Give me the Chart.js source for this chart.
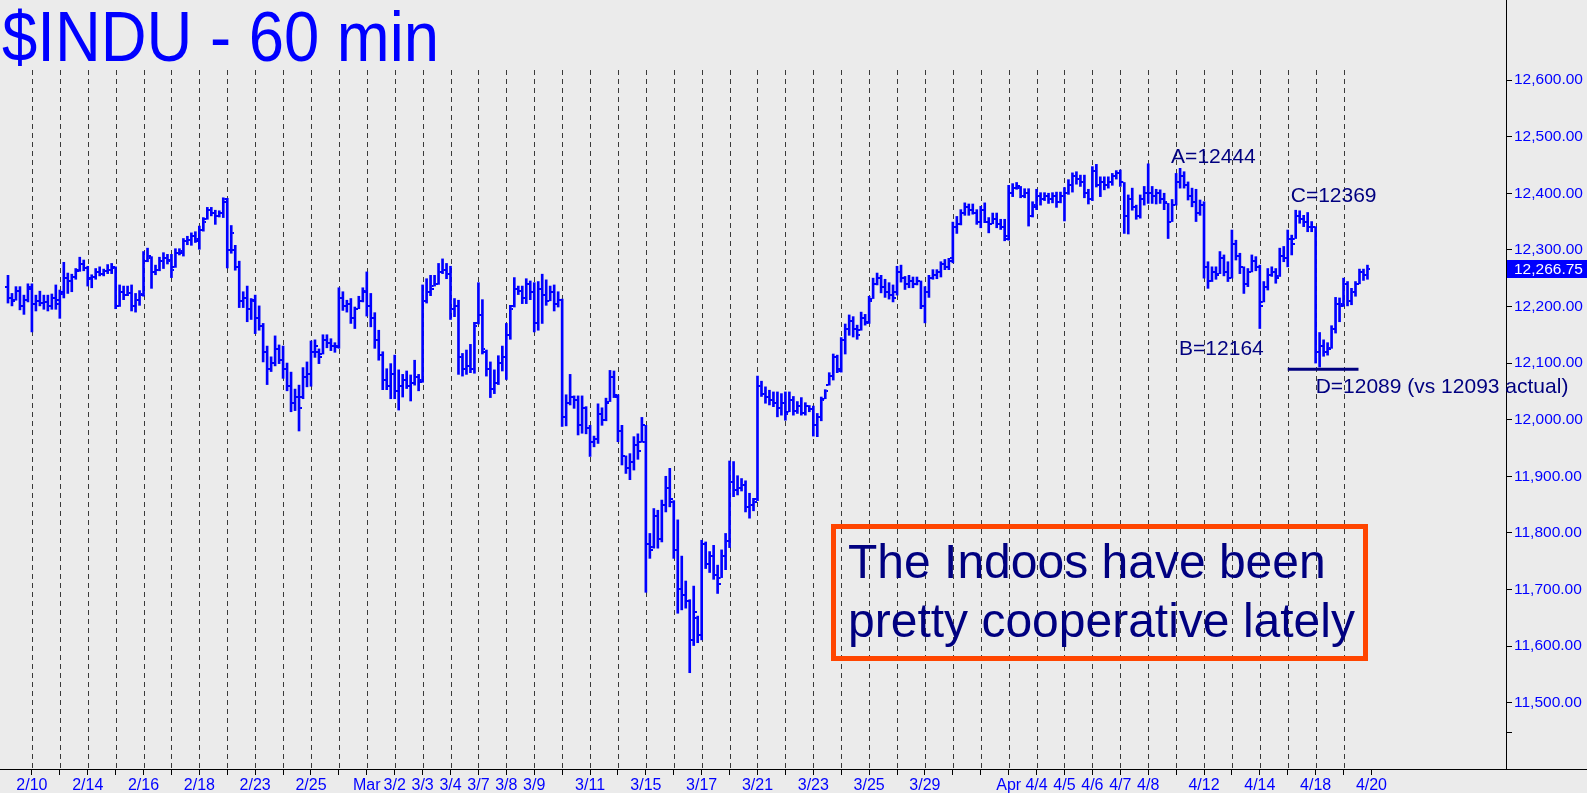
<!DOCTYPE html>
<html>
<head>
<meta charset="utf-8">
<title>$INDU - 60 min</title>
<script src="https://cdn.jsdelivr.net/npm/chart.js@4.4.1/dist/chart.umd.min.js"></script>
<style>
  html, body { margin: 0; padding: 0; background: #ebebeb; }
  canvas { display: block; }
</style>
</head>
<body>
<canvas id="induChart" width="1587" height="793"></canvas>
<script>
// one label per trading day (day lines), '' where the axis shows none
const dayLabels = ['2/10','','2/14','','2/16','','2/18','','2/23','','2/25','','Mar','3/2','3/3','3/4','3/7','3/8','3/9','','3/11','','3/15','','3/17','','3/21','','3/23','','3/25','','3/29','','','Apr','4/4','4/5','4/6','4/7','4/8','','4/12','','4/14','','4/18','','4/20'];
const barsPerDay = 7;
const firstDayOffset = 6; // last bars of 2/9 shown before the 2/10 line

// hourly bars, one row per day
const highs = [
  12255,12223,12235,12235,12220,12240,
  12240,12220,12227,12220,12220,12222,12238,
  12229,12278,12259,12257,12267,12287,12282,
  12271,12256,12267,12270,12266,12274,12276,
  12270,12238,12236,12236,12238,12223,12228,
  12297,12303,12288,12273,12287,12295,12292,
  12292,12302,12302,12320,12324,12330,12332,
  12342,12357,12375,12375,12370,12369,12392,
  12391,12343,12308,12280,12226,12236,12214,
  12220,12201,12170,12130,12111,12148,12132,
  12130,12100,12084,12054,12061,12092,12102,
  12139,12141,12125,12150,12150,12143,12136,
  12233,12226,12211,12214,12199,12218,12233,
  12261,12223,12189,12158,12120,12090,12099,
  12114,12088,12080,12086,12079,12105,12080,
  12238,12249,12255,12255,12276,12284,12276,
  12271,12214,12211,12117,12123,12133,12172,
  12242,12212,12123,12102,12088,12113,12130,
  12170,12202,12251,12236,12236,12249,12245,
  12242,12244,12257,12247,12236,12238,12226,
  12213,12044,12080,12042,12042,12042,12023,
  11990,11971,12028,12021,12038,12087,12086,
  12044,11990,11936,11940,11970,11975,12004,
  11990,11799,11843,11840,11858,11900,11914,
  11857,11823,11759,11715,11682,11706,11653,
  11787,11784,11767,11778,11743,11770,11799,
  11927,11926,11901,11896,11892,11870,11861,
  12077,12068,12058,12052,12049,12049,12046,
  12049,12049,12041,12032,12039,12030,12025,
  12024,12011,12040,12053,12083,12116,12114,
  12145,12169,12185,12182,12167,12190,12186,
  12218,12250,12259,12255,12248,12242,12238,
  12271,12273,12253,12255,12252,12252,12245,
  12235,12255,12265,12265,12279,12283,12285,
  12349,12359,12371,12383,12381,12381,12371,
  12377,12383,12357,12365,12365,12354,12354,
  12414,12417,12419,12412,12408,12408,12385,
  12407,12401,12401,12400,12401,12402,12402,
  12410,12424,12436,12438,12432,12432,12407,
  12447,12451,12429,12429,12429,12435,12440,
  12441,12419,12397,12409,12379,12397,12412,
  12452,12412,12407,12406,12400,12382,12389,
  12435,12444,12438,12420,12409,12407,12388,
  12385,12279,12270,12270,12297,12291,12279,
  12335,12317,12294,12270,12267,12291,12288,
  12273,12244,12267,12270,12267,12303,12306,
  12335,12326,12370,12369,12361,12366,12350,
  12341,12154,12141,12136,12166,12216,12215,
  12250,12244,12232,12244,12266,12266,12273
];
const lows = [
  12206,12201,12211,12194,12186,12208,
  12155,12192,12201,12195,12192,12195,12195,
  12179,12215,12223,12226,12248,12262,12263,
  12236,12233,12248,12254,12254,12258,12258,
  12196,12200,12212,12219,12192,12190,12202,
  12218,12279,12232,12256,12263,12267,12275,
  12251,12269,12291,12289,12309,12308,12313,
  12301,12333,12354,12360,12345,12358,12357,
  12268,12294,12264,12198,12198,12173,12177,
  12152,12158,12102,12062,12085,12095,12099,
  12073,12051,12014,12016,11980,12037,12058,
  12059,12110,12099,12116,12127,12122,12119,
  12126,12193,12190,12170,12161,12196,12208,
  12183,12164,12126,12105,12053,12053,12037,
  12037,12017,12040,12055,12033,12061,12051,
  12066,12206,12219,12236,12239,12258,12249,
  12177,12182,12080,12077,12080,12083,12082,
  12169,12116,12077,12039,12046,12062,12086,
  12071,12142,12199,12221,12205,12205,12212,
  12155,12158,12170,12202,12210,12192,12199,
  11988,11989,12026,12020,11973,11976,11975,
  11935,11952,11958,11990,11998,12032,12039,
  11961,11920,11905,11894,11911,11930,11960,
  11695,11755,11773,11773,11784,11837,11846,
  11755,11658,11664,11667,11553,11601,11606,
  11611,11737,11730,11718,11693,11721,11735,
  11774,11864,11867,11874,11837,11826,11839,
  11857,12041,12029,12026,12023,12005,12008,
  11999,12014,12008,12011,12008,12008,12014,
  11971,11970,11998,12037,12061,12070,12083,
  12084,12116,12149,12146,12142,12158,12167,
  12170,12214,12238,12224,12216,12213,12208,
  12220,12243,12230,12233,12233,12238,12196,
  12171,12216,12248,12249,12252,12265,12265,
  12277,12329,12344,12361,12361,12363,12345,
  12339,12348,12330,12346,12339,12336,12316,
  12317,12394,12407,12392,12392,12342,12358,
  12371,12379,12387,12382,12383,12375,12383,
  12351,12398,12402,12416,12412,12392,12381,
  12387,12411,12394,12406,12409,12414,12425,
  12412,12329,12328,12370,12354,12356,12379,
  12382,12382,12381,12382,12371,12320,12350,
  12379,12409,12409,12388,12376,12350,12361,
  12250,12232,12244,12248,12258,12254,12244,
  12250,12282,12258,12223,12235,12261,12263,
  12161,12208,12229,12253,12241,12253,12279,
  12270,12291,12320,12347,12341,12332,12332,
  12100,12093,12112,12114,12126,12153,12173,
  12200,12201,12203,12218,12240,12246,12248
];
const opens = [
  12235,12215,12212,12228,12200,12212,
  12235,12205,12210,12206,12208,12200,12215,
  12205,12222,12250,12245,12252,12265,12275,
  12268,12248,12252,12260,12258,12262,12265,
  12268,12200,12225,12220,12224,12200,12212,
  12222,12280,12285,12260,12265,12280,12285,
  12282,12270,12295,12295,12315,12318,12325,
  12315,12335,12355,12370,12365,12360,12365,
  12385,12300,12300,12270,12210,12215,12195,
  12212,12180,12165,12120,12090,12100,12125,
  12105,12090,12060,12030,12040,12040,12075,
  12080,12120,12120,12116,12140,12135,12130,
  12130,12215,12200,12205,12180,12196,12210,
  12228,12200,12180,12140,12115,12070,12060,
  12080,12050,12060,12070,12060,12065,12075,
  12070,12210,12225,12236,12240,12260,12265,
  12258,12195,12200,12110,12090,12095,12090,
  12170,12185,12120,12090,12055,12065,12100,
  12110,12150,12200,12230,12228,12215,12240,
  12225,12170,12230,12220,12210,12225,12205,
  12212,12005,12030,12040,12035,11990,12020,
  11985,11960,11965,12010,12000,12032,12075,
  12040,11980,11935,11915,11925,11955,11960,
  11960,11780,11775,11830,11790,11850,11880,
  11855,11770,11700,11690,11680,11610,11650,
  11620,11780,11745,11760,11725,11721,11760,
  11785,11890,11875,11880,11885,11845,11850,
  11860,12060,12045,12040,12035,12030,12020,
  12030,12014,12035,12015,12025,12012,12025,
  12018,11990,12005,12037,12061,12078,12110,
  12090,12140,12160,12175,12160,12158,12180,
  12172,12214,12240,12250,12235,12225,12220,
  12225,12260,12250,12240,12245,12240,12245,
  12200,12225,12250,12255,12260,12275,12270,
  12285,12340,12345,12365,12375,12370,12365,
  12350,12370,12350,12346,12355,12345,12340,
  12325,12400,12410,12410,12395,12400,12360,
  12380,12395,12390,12395,12390,12395,12385,
  12395,12400,12415,12430,12425,12420,12400,
  12390,12440,12415,12420,12415,12420,12430,
  12435,12419,12360,12390,12375,12360,12390,
  12400,12400,12395,12400,12390,12382,12350,
  12380,12420,12430,12415,12395,12385,12365,
  12380,12270,12245,12260,12258,12285,12260,
  12250,12310,12290,12270,12240,12261,12280,
  12270,12208,12235,12255,12260,12253,12290,
  12285,12320,12320,12360,12355,12350,12340,
  12341,12120,12130,12120,12126,12160,12205,
  12205,12240,12210,12225,12240,12260,12255
];
const closes = [
  12215,12210,12228,12200,12212,12230,
  12205,12210,12206,12208,12200,12215,12212,
  12225,12250,12245,12252,12262,12275,12268,
  12250,12252,12260,12258,12262,12265,12270,
  12200,12225,12220,12224,12200,12212,12220,
  12280,12290,12260,12265,12280,12285,12280,
  12265,12295,12298,12315,12318,12325,12320,
  12335,12350,12370,12365,12360,12365,12390,
  12300,12330,12270,12210,12215,12195,12210,
  12180,12165,12120,12090,12100,12125,12105,
  12090,12060,12030,12040,12020,12075,12080,
  12120,12130,12110,12140,12135,12130,12128,
  12215,12200,12205,12180,12195,12210,12225,
  12200,12180,12140,12115,12070,12060,12080,
  12050,12060,12070,12060,12065,12075,12066,
  12210,12225,12230,12240,12260,12265,12258,
  12195,12200,12110,12090,12095,12090,12165,
  12185,12125,12090,12055,12065,12100,12110,
  12150,12195,12230,12228,12215,12240,12225,
  12170,12230,12220,12210,12225,12205,12212,
  12005,12030,12040,12035,11990,12020,11985,
  11960,11965,12010,12000,12030,12075,12044,
  11980,11935,11915,11925,11955,11945,11990,
  11780,11770,11830,11790,11850,11880,11860,
  11770,11700,11690,11680,11610,11660,11620,
  11780,11745,11760,11725,11710,11760,11785,
  11890,11875,11880,11885,11845,11850,11855,
  12060,12045,12040,12035,12030,12020,12030,
  12010,12035,12015,12025,12012,12025,12018,
  11990,12005,12035,12050,12078,12110,12086,
  12140,12160,12175,12160,12150,12180,12170,
  12210,12240,12250,12235,12225,12220,12215,
  12260,12250,12240,12245,12240,12245,12200,
  12225,12250,12255,12260,12275,12270,12280,
  12340,12345,12365,12375,12370,12365,12350,
  12370,12350,12345,12355,12345,12340,12320,
  12400,12410,12412,12395,12400,12360,12375,
  12395,12390,12395,12390,12395,12385,12395,
  12400,12415,12430,12425,12420,12400,12390,
  12440,12415,12420,12415,12420,12430,12435,
  12420,12360,12390,12375,12360,12390,12400,
  12400,12395,12400,12390,12385,12350,12380,
  12420,12430,12415,12395,12385,12365,12380,
  12270,12245,12260,12255,12285,12260,12250,
  12310,12290,12270,12240,12260,12280,12270,
  12200,12235,12255,12260,12250,12290,12285,
  12320,12310,12360,12355,12350,12340,12341,
  12120,12130,12120,12125,12160,12205,12200,
  12240,12210,12225,12240,12260,12255,12266.75
];
const yTicks = [11500, 11600, 11700, 11800, 11900, 12000, 12100, 12200, 12300, 12400, 12500, 12600];
const yBareTicks = [11448]; // unlabelled mark near the bottom of the price axis

// pattern labels, placed in (bar slot, price) terms
const notes = [
  { text: 'A=12444', bar: 285.75, price: 12454 },
  { text: 'C=12369', bar: 315.75, price: 12384 },
  { text: 'B=12164', bar: 287.75, price: 12114 },
  { text: 'D=12089 (vs 12093 actual)', bar: 322, price: 12047 }
];
const dTarget = 12089;
const dLineBars = [315, 332.75];

const fontFamily = "'Liberation Sans', Arial, sans-serif";
const blue = '#0000ff';
const navy = '#000080';

const slots = highs.map((_, i) => i - firstDayOffset);
const rangeData = highs.map((h, i) => ({ x: slots[i], y: [lows[i], h] }));
const openData = opens.map((o, i) => ({ x: slots[i], y: o }));
const closeData = closes.map((c, i) => ({ x: slots[i], y: c }));

function tickMark(side) {
  const c = document.createElement('canvas');
  c.width = 6;
  c.height = 2;
  const g = c.getContext('2d');
  g.fillStyle = blue;
  g.fillRect(side === 'left' ? 0 : 4, 0, 2, 2);
  return c;
}

const decor = {
  id: 'decor',
  beforeDraw(chart) {
    const { ctx, width, height } = chart;
    ctx.save();
    ctx.fillStyle = '#ebebeb';
    ctx.fillRect(0, 0, width, height);
    ctx.restore();
  },
  beforeDatasetsDraw(chart) {
    const { ctx, chartArea, scales: { x } } = chart;
    ctx.save();
    ctx.strokeStyle = '#3a3a3a';
    ctx.lineWidth = 1;
    ctx.setLineDash([5, 4]);
    for (let d = 0; d < dayLabels.length - 1; d++) {
      const px = Math.round(x.getPixelForValue(d * barsPerDay)) + 0.5;
      ctx.beginPath();
      ctx.moveTo(px, 70);
      ctx.lineTo(px, chartArea.bottom);
      ctx.stroke();
    }
    ctx.restore();
  },
  afterDraw(chart) {
    const { ctx, chartArea, width, scales: { x, y } } = chart;
    ctx.save();

    // axis lines run past the plot
    ctx.strokeStyle = '#000';
    ctx.lineWidth = 1;
    ctx.beginPath();
    ctx.moveTo(0, chartArea.bottom + 0.5);
    ctx.lineTo(width, chartArea.bottom + 0.5);
    ctx.moveTo(chartArea.right + 0.5, 0);
    ctx.lineTo(chartArea.right + 0.5, chartArea.bottom);
    ctx.stroke();

    // last price flag
    const last = closes[closes.length - 1];
    const ly = y.getPixelForValue(last);
    ctx.fillStyle = blue;
    ctx.fillRect(chartArea.right + 1, Math.round(ly) - 9, width - chartArea.right - 1, 18);
    ctx.fillStyle = '#fff';
    ctx.font = '15.5px ' + fontFamily;
    ctx.textBaseline = 'middle';
    ctx.fillText(last.toLocaleString('en-US', { minimumFractionDigits: 2, maximumFractionDigits: 2 }), chartArea.right + 8, ly + 1);

    // title
    ctx.textBaseline = 'alphabetic';
    ctx.fillStyle = blue;
    ctx.font = '70px ' + fontFamily;
    ctx.fillText('$INDU - 60 min', 2, 61, 437);

    // pattern notes
    ctx.fillStyle = navy;
    ctx.font = '21px ' + fontFamily;
    notes.forEach(n => ctx.fillText(n.text, x.getPixelForValue(n.bar), y.getPixelForValue(n.price)));
    ctx.strokeStyle = navy;
    ctx.lineWidth = 3;
    ctx.beginPath();
    const dy = y.getPixelForValue(dTarget);
    ctx.moveTo(x.getPixelForValue(dLineBars[0]), dy);
    ctx.lineTo(x.getPixelForValue(dLineBars[1]), dy);
    ctx.stroke();

    // comment box
    ctx.strokeStyle = '#ff4500';
    ctx.lineWidth = 5;
    ctx.strokeRect(833.5, 526.5, 532, 132);
    ctx.fillStyle = navy;
    ctx.font = '48px ' + fontFamily;
    ctx.fillText('The Indoos have been', 848, 578);
    ctx.fillText('pretty cooperative lately', 848, 637);

    ctx.restore();
  }
};

const ctx = document.getElementById('induChart').getContext('2d');
const induChart = new Chart(ctx, {
  type: 'bar',
  data: {
    datasets: [
      {
        type: 'bar',
        data: rangeData,
        backgroundColor: blue,
        borderWidth: 0,
        barThickness: 2,
        grouped: false,
        order: 2
      },
      {
        type: 'line',
        data: openData,
        showLine: false,
        pointStyle: tickMark('left'),
        pointRadius: 2,
        order: 1
      },
      {
        type: 'line',
        data: closeData,
        showLine: false,
        pointStyle: tickMark('right'),
        pointRadius: 2,
        order: 1
      }
    ]
  },
  options: {
    responsive: false,
    animation: false,
    events: [],
    layout: { padding: { top: 70, left: 0, right: 0, bottom: 0 } },
    plugins: {
      legend: { display: false },
      tooltip: { enabled: false }
    },
    scales: {
      x: {
        type: 'linear',
        position: 'bottom',
        min: -6.75,
        max: 369.75,
        offset: false,
        afterBuildTicks: s => { s.ticks = dayLabels.map((_, d) => ({ value: d * barsPerDay })); },
        afterFit: s => { s.height = 24; },
        grid: { drawOnChartArea: false, drawTicks: true, tickLength: 6, color: '#000', offset: false },
        border: { display: true, color: '#000', width: 1 },
        ticks: {
          autoSkip: false,
          maxRotation: 0,
          minRotation: 0,
          padding: 1,
          color: blue,
          font: { family: fontFamily, size: 16 },
          callback: (v, i) => dayLabels[i]
        }
      },
      y: {
        type: 'linear',
        position: 'right',
        min: 11382.9,
        max: 12617.7,
        afterBuildTicks: s => { s.ticks = yBareTicks.concat(yTicks).map(v => ({ value: v })); },
        afterFit: s => { s.width = 81; },
        grid: { drawOnChartArea: false, drawTicks: true, tickLength: 6, color: '#000' },
        border: { display: true, color: '#000', width: 1 },
        ticks: {
          autoSkip: false,
          padding: 2,
          color: blue,
          font: { family: fontFamily, size: 15.5 },
          callback: v => yTicks.includes(v)
            ? v.toLocaleString('en-US', { minimumFractionDigits: 2, maximumFractionDigits: 2 })
            : ''
        }
      }
    }
  },
  plugins: [decor]
});
</script>
</body>
</html>
